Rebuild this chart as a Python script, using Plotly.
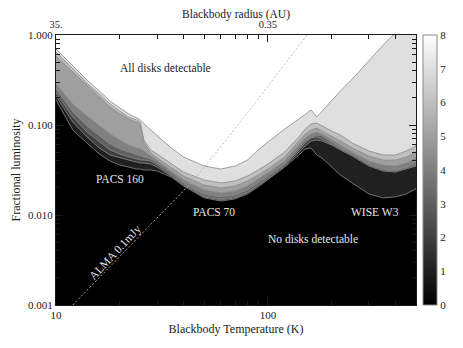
import numpy as np
import plotly.graph_objects as go

temp_k = [10, 12, 14, 16, 18, 20, 22, 24, 25, 26, 28, 30, 35, 40, 50, 60, 70, 80,
          90, 100, 120, 140, 150, 160, 170, 180, 200, 220, 250, 300, 350, 400, 450, 500]
# the "all disks" edge leaves the top of the frame near 390 K
temp_k_all = [10, 12, 14, 16, 18, 20, 22, 24, 25, 26, 28, 30, 35, 40, 50, 60, 70, 80,
              90, 100, 120, 140, 150, 160, 170, 180, 200, 220, 250, 300, 350, 390]

# Lower edge (fractional luminosity) of the region where >= n disks are detectable
lim_8 = [0.699, 0.452, 0.316, 0.239, 0.185, 0.155, 0.133, 0.120, 0.114, 0.103, 0.088, 0.0755,
         0.0555, 0.0441, 0.0350, 0.0324, 0.0350, 0.0408, 0.0528, 0.0647, 0.0903, 0.1166,
         0.1325, 0.1468, 0.1227, 0.1431, 0.1848, 0.2387, 0.3244, 0.5275, 0.7743, 1.0]
lim_7 = [0.647, 0.419, 0.293, 0.221, 0.171, 0.143, 0.123, 0.114, 0.108, 0.0681, 0.0528, 0.0476,
         0.0369, 0.0300, 0.0245, 0.0227, 0.0239, 0.0271, 0.0316, 0.0369, 0.0501, 0.0736,
         0.0903, 0.1026, 0.1052, 0.0975, 0.0858, 0.0774, 0.0631, 0.0514, 0.0464, 0.0464,
         0.0514, 0.0584]
lim_6 = [0.584, 0.388, 0.271, 0.205, 0.158, 0.133, 0.117, 0.108, 0.103, 0.0631, 0.0489, 0.0430,
         0.0333, 0.0271, 0.0215, 0.0200, 0.0210, 0.0239, 0.0278, 0.0324, 0.0441, 0.0664,
         0.0794, 0.0880, 0.0926, 0.0858, 0.0755, 0.0664, 0.0555, 0.0452, 0.0408, 0.0408,
         0.0441, 0.0501]
lim_5 = [0.286, 0.171, 0.126, 0.0975, 0.0794, 0.0681, 0.0600, 0.0555, 0.0541, 0.0514, 0.0452,
         0.0398, 0.0308, 0.0245, 0.0190, 0.0176, 0.0185, 0.0210, 0.0251, 0.0293, 0.0398,
         0.0600, 0.0717, 0.0794, 0.0836, 0.0794, 0.0681, 0.0600, 0.0501, 0.0398, 0.0359,
         0.0350, 0.0378, 0.0430]
lim_4 = [0.251, 0.140, 0.0975, 0.0755, 0.0615, 0.0541, 0.0501, 0.0464, 0.0452, 0.0441, 0.0419,
         0.0378, 0.0293, 0.0227, 0.0171, 0.0159, 0.0167, 0.0190, 0.0227, 0.0271, 0.0369,
         0.0555, 0.0664, 0.0736, 0.0774, 0.0755, 0.0647, 0.0555, 0.0476, 0.0369, 0.0324,
         0.0316, 0.0341, 0.0378]
lim_3 = [0.227, 0.123, 0.0836, 0.0647, 0.0528, 0.0476, 0.0441, 0.0419, 0.0408, 0.0408, 0.0398,
         0.0359, 0.0278, 0.0221, 0.0163, 0.0151, 0.0159, 0.0180, 0.0215, 0.0258, 0.0359,
         0.0528, 0.0631, 0.0717, 0.0736, 0.0699, 0.0615, 0.0541, 0.0464, 0.0359, 0.0316,
         0.0308, 0.0333, 0.0359]
lim_2 = [0.210, 0.108, 0.0736, 0.0555, 0.0464, 0.0430, 0.0408, 0.0388, 0.0378, 0.0378, 0.0369,
         0.0341, 0.0271, 0.0215, 0.0159, 0.0147, 0.0155, 0.0176, 0.0210, 0.0251, 0.0350,
         0.0501, 0.0584, 0.0664, 0.0681, 0.0664, 0.0600, 0.0528, 0.0452, 0.0350, 0.0308,
         0.0300, 0.0324, 0.0350]
lim_1 = [0.190, 0.088, 0.0631, 0.0476, 0.0398, 0.0359, 0.0341, 0.0324, 0.0324, 0.0316, 0.0316,
         0.0308, 0.0264, 0.0210, 0.0155, 0.0143, 0.0151, 0.0171, 0.0205, 0.0245, 0.0341,
         0.0464, 0.0541, 0.0555, 0.0464, 0.0430, 0.0341, 0.0278, 0.0227, 0.0171, 0.0155,
         0.0159, 0.0171, 0.0196]

# ALMA 0.1 mJy sensitivity curve
alma_temp = [12.0, 29.3, 45.3, 153.0]
alma_lum = [0.001, 0.0088, 0.0258, 1.0]

levels = list(range(0, 9))
radius_temp = [10, 100]
radius_text = ["35.", "0.35"]

SERIF = "Liberation Serif, Times New Roman, DejaVu Serif, serif"
INK = "#1a1a1a"
LIGHT = "#e6e6e6"


def grey(n):
    v = round(255 * n / 8)
    return f"rgb({v},{v},{v})"


fig = go.Figure()

edges = [(1, temp_k, lim_1), (2, temp_k, lim_2), (3, temp_k, lim_3), (4, temp_k, lim_4),
         (5, temp_k, lim_5), (6, temp_k, lim_6), (7, temp_k, lim_7), (8, temp_k_all, lim_8)]
for n, tk, lim in edges:
    # region above the edge, closed well outside the frame
    fig.add_trace(go.Scatter(
        x=list(tk) + [700, 7], y=list(lim) + [3, 3],
        mode="lines", fill="toself", fillcolor=grey(n),
        line=dict(color="#8a8a8a", width=0.8),
        hoverinfo="skip", showlegend=False,
    ))

fig.add_trace(go.Scatter(
    x=alma_temp, y=alma_lum, mode="lines", line_shape="spline",
    line=dict(color="#b4b4b4", width=1, dash="2px,2px"),
    hoverinfo="skip", showlegend=False,
))

# colour bar only
fig.add_trace(go.Scatter(
    x=[10], y=[1e-6], mode="markers",
    marker=dict(size=1, color=[0], cmin=0, cmax=8,
                colorscale=[[0, "#000000"], [1, "#ffffff"]], showscale=True,
                colorbar=dict(thickness=14, thicknessmode="pixels", len=1.0, lenmode="fraction",
                              x=1.019, xanchor="left", y=0.5, yanchor="middle", ypad=0, xpad=0,
                              outlinecolor="#8a8a8a", outlinewidth=1,
                              tickvals=levels, ticks="",
                              tickfont=dict(family=SERIF, size=11, color=INK))),
    hoverinfo="skip", showlegend=False,
))

# dummy trace so the top (radius) axis is drawn
fig.add_trace(go.Scatter(x=[10], y=[1e-6], xaxis="x2", mode="markers",
                         marker=dict(size=1, opacity=0), hoverinfo="skip", showlegend=False))

labels = [
    ("All disks detectable", 32.7, 0.43, INK, 0),
    ("PACS 160", 20.0, 0.0251, LIGHT, 0),
    ("PACS 70", 55.6, 0.0108, LIGHT, 0),
    ("WISE W3", 320, 0.0108, LIGHT, 0),
    ("No disks detectable", 163, 0.0054, LIGHT, 0),
    ("ALMA 0.1mJy", 19.0, 0.00388, LIGHT, -47),
]
for txt, tx, ty, col, ang in labels:
    fig.add_annotation(x=np.log10(tx), y=np.log10(ty), text=txt, showarrow=False,
                       textangle=ang, font=dict(family=SERIF, size=11.5, color=col))

x_minor = [20, 30, 40, 50, 60, 70, 80, 90, 200, 300, 400]
y_minor = [m * 10.0 ** e for e in (-3, -2, -1) for m in range(2, 10)]
xrange_log = [1, np.log10(500)]

# the page body adds an 8 px offset, so the figure is 8 px smaller than the window
fig.update_layout(
    width=455, height=340,
    margin=dict(l=48, r=47, t=27, b=43, autoexpand=False),
    paper_bgcolor="white", plot_bgcolor="black",
    font=dict(family=SERIF, size=11, color=INK),
    showlegend=False,
    xaxis=dict(type="log", range=xrange_log, tickvals=[10, 100], ticktext=["10", "100"],
               ticks="inside", ticklen=7, tickcolor=INK, showgrid=False, zeroline=False,
               showline=True, linecolor=INK, linewidth=1, mirror="ticks", automargin=False,
               minor=dict(tickvals=x_minor, ticks="inside", ticklen=4, tickcolor=INK, showgrid=False),
               tickfont=dict(family=SERIF, size=11, color=INK),
               title=dict(text="Blackbody Temperature (K)", standoff=4,
                          font=dict(family=SERIF, size=12, color=INK))),
    xaxis2=dict(type="log", range=xrange_log, overlaying="x", side="top",
                tickvals=radius_temp, ticktext=radius_text, ticks="", showgrid=False,
                showline=False, zeroline=False, automargin=False, ticklabelstandoff=4,
                tickfont=dict(family=SERIF, size=10.5, color=INK),
                title=dict(text="Blackbody radius (AU)", standoff=0,
                           font=dict(family=SERIF, size=11.5, color=INK))),
    yaxis=dict(type="log", range=[-3, 0], tickvals=[0.001, 0.01, 0.1, 1],
               ticktext=["0.001", "0.010", "0.100", "1.000"],
               ticks="inside", ticklen=7, tickcolor=INK, showgrid=False, zeroline=False,
               showline=True, linecolor=INK, linewidth=1, mirror="ticks", automargin=False,
               minor=dict(tickvals=y_minor, ticks="inside", ticklen=4, tickcolor=INK, showgrid=False),
               tickfont=dict(family=SERIF, size=11, color=INK),
               title=dict(text="Fractional luminosity", standoff=4,
                          font=dict(family=SERIF, size=12, color=INK))),
)

fig.write_html("out.html")
